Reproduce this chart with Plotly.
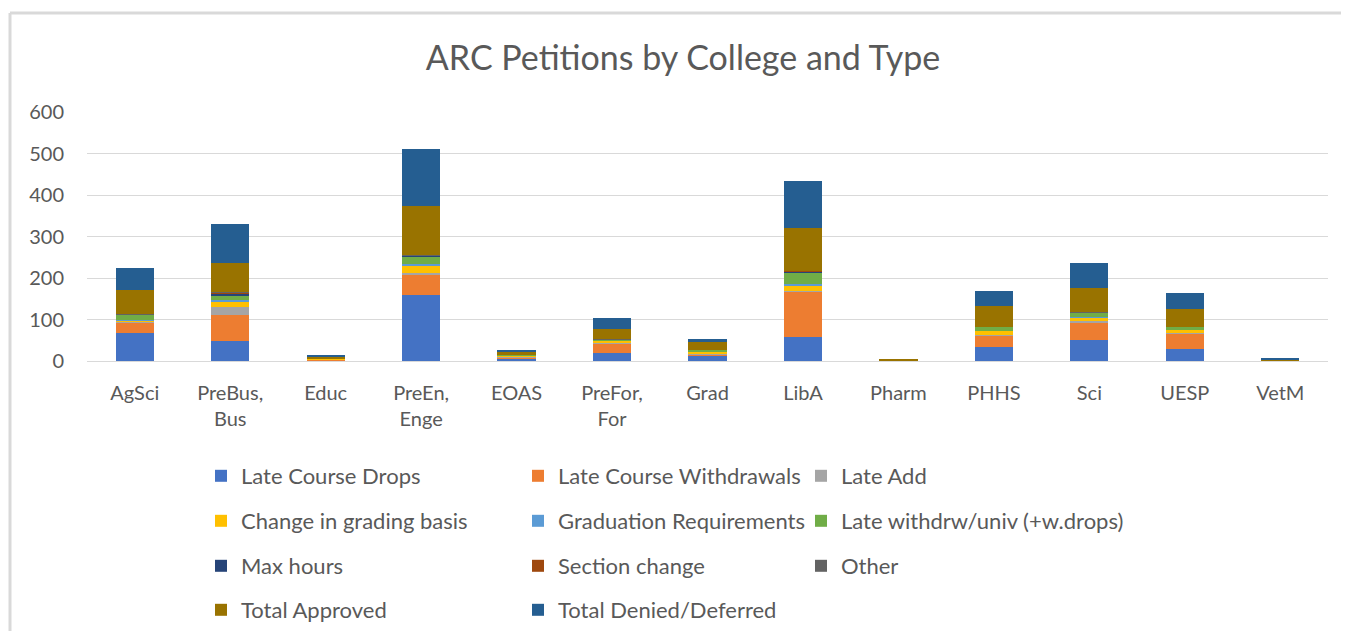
import plotly.graph_objects as go

categories = ["AgSci", "PreBus,<br>Bus", "Educ", "PreEn,<br>Enge", "EOAS", "PreFor,<br>For",
              "Grad", "LibA", "Pharm", "PHHS", "Sci", "UESP", "VetM"]

late_course_drops = [67, 48, 1, 158, 6, 20, 13, 59, 0, 33, 51, 28, 0]
late_course_withdrawals = [25, 63, 2, 49, 3, 22, 3, 108, 1, 28, 41, 38, 1]
late_add = [4, 18, 0, 6, 2, 3, 2, 2, 0, 1, 5, 1, 0]
change_grading = [2, 14, 2, 17, 2, 4, 4, 12, 0, 10, 8, 8, 0]
graduation_req = [1, 4, 0, 3, 0, 0, 1, 4, 0, 0, 2, 0, 0]
late_withdrw_univ = [12, 12, 2, 19, 1, 2, 3, 28, 0, 10, 9, 6, 0]
max_hours = [1, 4, 0, 2, 0, 1, 0, 3, 0, 1, 1, 0, 0]
section_change = [0, 1, 0, 1, 0, 0, 0, 1, 0, 0, 0, 0, 1]
other = [1, 2, 0, 1, 0, 1, 0, 1, 0, 0, 1, 0, 0]
total_approved = [59, 71, 4, 118, 7, 24, 20, 102, 2, 49, 58, 45, 2]
total_denied = [53, 93, 3, 137, 5, 27, 7, 114, 0, 36, 61, 37, 1]

series = [
    ("Late Course Drops", late_course_drops, "#4472C4"),
    ("Late Course Withdrawals", late_course_withdrawals, "#ED7D31"),
    ("Late Add", late_add, "#A5A5A5"),
    ("Change in grading basis", change_grading, "#FFC000"),
    ("Graduation Requirements", graduation_req, "#5B9BD5"),
    ("Late withdrw/univ (+w.drops)", late_withdrw_univ, "#70AD47"),
    ("Max hours", max_hours, "#264478"),
    ("Section change", section_change, "#9E480E"),
    ("Other", other, "#636363"),
    ("Total Approved", total_approved, "#997300"),
    ("Total Denied/Deferred", total_denied, "#255E91"),
]

FONT = "Lato"
TXT = "#595959"
OFF = 8  # page body margin
W, H = 1349 - 2 * OFF, 639 - 2 * OFF
ML, MT, MB = 87 - OFF, 112 - OFF, H - (361 - OFF)
MR = W - (1328 - OFF)
PW, PH = W - ML - MR, H - MT - MB

def px2x(px):  # page pixel -> paper x
    return (px - OFF - ML) / PW

def py2y(py):  # page pixel -> paper y
    return (H - MB - (py - OFF)) / PH

def cx(px):  # page pixel -> container x
    return (px - OFF) / W

def cy(py):  # page pixel -> container y
    return 1 - (py - OFF) / H

col_marker_x = [213, 530, 813]
row_center_y = [476, 521, 566, 610]

fig = go.Figure()
layout_legends = {}
for i, (name, vals, color) in enumerate(series):
    r, c = divmod(i, 3)
    key = "legend" if i == 0 else f"legend{i+1}"
    fig.add_trace(go.Bar(
        x=categories, y=vals, name=name, legend=key,
        marker=dict(color=color, line=dict(width=0)),
    ))
    layout_legends[key] = dict(
        xref="container", yref="container",
        x=cx(col_marker_x[c] - 12), y=cy(row_center_y[r]),
        xanchor="left", yanchor="middle",
        font=dict(family=FONT, size=22, color=TXT),
        bgcolor="rgba(0,0,0,0)", borderwidth=0,
        orientation="h",
    )

fig.update_layout(
    barmode="stack",
    bargap=0.6,
    width=W, height=H,
    margin=dict(l=ML, r=MR, t=MT, b=MB, autoexpand=False),
    paper_bgcolor="white",
    plot_bgcolor="white",
    title=dict(text="ARC Petitions by College and Type", x=cx(683), xanchor="center",
               xref="container", yref="container", y=cy(58), yanchor="middle",
               font=dict(family=FONT, size=34, color=TXT)),
    font=dict(family=FONT, size=20, color=TXT),
    showlegend=True,
    **layout_legends,
)
fig.update_yaxes(range=[0, 600], dtick=100, showgrid=True, gridcolor="#D9D9D9", gridwidth=1,
                 zeroline=False, showline=False, ticks="", ticklabelstandoff=22,
                 tickfont=dict(family=FONT, size=20, color=TXT))
fig.update_xaxes(showline=True, linecolor="#D9D9D9", linewidth=1, ticks="",
                 ticklabelstandoff=14, tickfont=dict(family=FONT, size=20, color=TXT))

# chart-area frame (top and left edges visible in the reference)
fig.add_shape(type="line", xref="paper", yref="paper",
              x0=px2x(10), x1=px2x(1349), y0=py2y(13), y1=py2y(13),
              line=dict(color="#D9D9D9", width=3), layer="below")
fig.add_shape(type="line", xref="paper", yref="paper",
              x0=px2x(10), x1=px2x(10), y0=py2y(13), y1=py2y(645),
              line=dict(color="#D9D9D9", width=3), layer="below")

fig.write_html("out.html")
